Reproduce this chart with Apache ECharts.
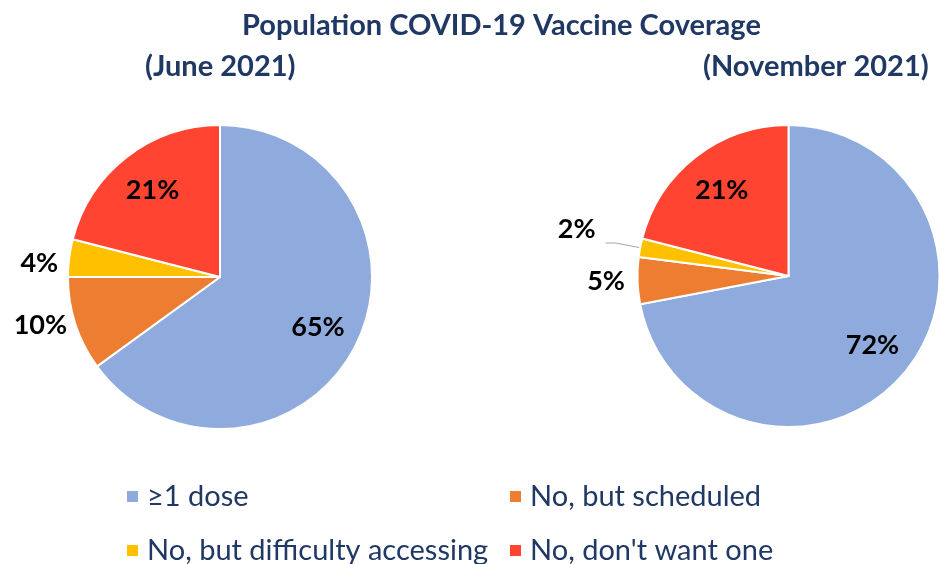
<!DOCTYPE html>
<html>
<head>
<meta charset="utf-8">
<script src="https://cdn.jsdelivr.net/npm/echarts@6/dist/echarts.min.js"></script>
<style>
  html, body { margin: 0; padding: 0; background: #ffffff; }
  #chart { width: 944px; height: 564px; }
</style>
</head>
<body>
<div id="chart"></div>
<script>
// Survey answers, shared by both pies
const categories = ['≥1 dose', 'No, but scheduled', 'No, but difficulty accessing', "No, don't want one"];
// Share of population (%) per answer
const juneValues = [65, 10, 4, 21];
const novemberValues = [72, 5, 2, 21];
const periodLabels = ['(June 2021)', '(November 2021)'];
const chartTitle = 'Population COVID-19 Vaccine Coverage';

const sliceColors = ['#8FAADC', '#ED7D31', '#FFC000', '#FF4532'];
const navy = '#203864';
const fontFamily = 'Lato, "Noto Sans", sans-serif';

// Large slices carry their label inside, small ones outside
const insideIdx = [0, 3];

const labelFont = { color: '#000', fontWeight: 'bold', fontSize: 27, fontFamily: fontFamily };

// Outside label placement for the small slices of each pie
const outsideJune = {
  1: { label: { distanceToLabelLine: 5.5 }, labelLine: { show: false, length: 3, length2: 0 } },
  2: { label: { distanceToLabelLine: 8, formatter: '{s| }\n{c}%', rich: { s: { lineHeight: 12, fontSize: 6 } } },
       labelLine: { show: false, length: 3, length2: 0 } }
};
const outsideNovember = {
  1: { label: { distanceToLabelLine: 9.6 }, labelLine: { show: false, length: 3, length2: 0 } },
  2: { label: { distanceToLabelLine: 10, formatter: '{c}%\n{s| }', rich: { s: { lineHeight: 28, fontSize: 6 } } },
       labelLine: { show: true, length: 25, length2: 10, lineStyle: { color: '#A6A6A6', width: 1 } } }
};

function sliceData(values, outside) {
  return values.map(function (v, i) {
    const item = { name: categories[i], value: v, itemStyle: { color: sliceColors[i] } };
    if (outside[i]) {
      item.label = Object.assign({ show: true, position: 'outside' }, outside[i].label);
      item.labelLine = outside[i].labelLine;
    } else {
      item.label = { show: false };
      item.labelLine = { show: false };
    }
    return item;
  });
}

function insideLabelData(values) {
  return values.map(function (v, i) {
    return {
      name: categories[i],
      value: v,
      label: { show: insideIdx.indexOf(i) >= 0 }
    };
  });
}

function pieSeries(values, outside, center, r) {
  return {
    type: 'pie',
    center: center,
    radius: [0, r],
    startAngle: 90,
    clockwise: true,
    avoidLabelOverlap: false,
    bleedMargin: 0,
    edgeDistance: 0,
    animation: false,
    label: Object.assign({ formatter: '{c}%' }, labelFont),
    itemStyle: { borderColor: '#fff', borderWidth: 2 },
    emphasis: { disabled: true },
    data: sliceData(values, outside)
  };
}

// Transparent ring that only places the inside labels at the right radius
function labelRing(values, center, r) {
  return {
    type: 'pie',
    center: center,
    radius: [r - 90, r],
    startAngle: 90,
    clockwise: true,
    avoidLabelOverlap: false,
    silent: true,
    animation: false,
    label: Object.assign({ position: 'inside', formatter: '{c}%' }, labelFont),
    labelLine: { show: false },
    itemStyle: { color: 'rgba(0,0,0,0)', borderWidth: 0 },
    emphasis: { disabled: true },
    data: insideLabelData(values)
  };
}

function legendItem(i, left, top) {
  return {
    left: left, top: top,
    padding: 0,
    icon: 'rect', itemWidth: 13, itemHeight: 13,
    selectedMode: false,
    textStyle: { color: navy, fontSize: 29, fontFamily: fontFamily, padding: [0, 0, 0, 3] },
    data: [{ name: categories[i], itemStyle: { color: sliceColors[i] } }]
  };
}

const chart = echarts.init(document.getElementById('chart'), null, { renderer: 'canvas' });
chart.setOption({
  backgroundColor: '#ffffff',
  title: [
    { text: chartTitle, left: 242, top: 11, padding: 0,
      textStyle: { color: navy, fontWeight: 'bold', fontSize: 29, fontFamily: fontFamily } },
    { text: periodLabels[0], left: 145, top: 52, padding: 0,
      textStyle: { color: navy, fontWeight: 'bold', fontSize: 29, fontFamily: fontFamily } },
    { text: periodLabels[1], left: 703, top: 52, padding: 0,
      textStyle: { color: navy, fontWeight: 'bold', fontSize: 29, fontFamily: fontFamily } }
  ],
  legend: [
    legendItem(0, 125, 482),
    legendItem(1, 508, 482),
    legendItem(2, 125, 536),
    legendItem(3, 508, 536)
  ],
  series: [
    pieSeries(juneValues, outsideJune, [220, 277], 152),
    pieSeries(novemberValues, outsideNovember, [788.5, 276], 151),
    labelRing(juneValues, [220, 277], 152),
    labelRing(novemberValues, [788.5, 276], 151)
  ]
});
</script>
</body>
</html>
